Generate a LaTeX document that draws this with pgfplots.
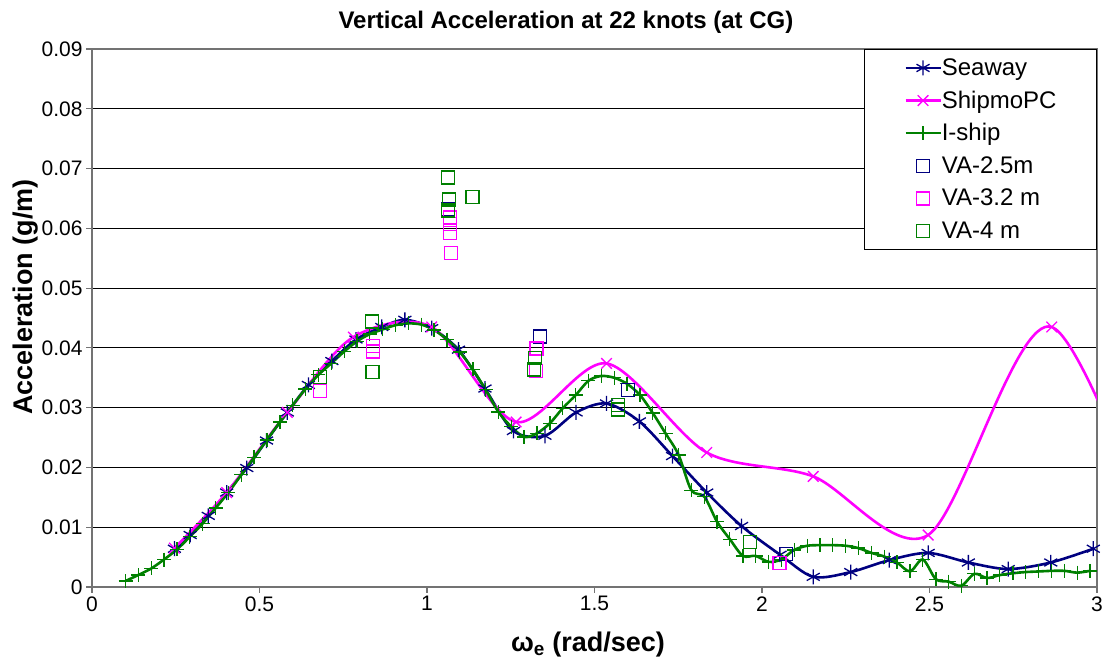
\documentclass[border=0pt]{standalone}
\usepackage{pgfplots}
\pgfplotsset{compat=1.18}
\usepackage{fontspec}
\setmainfont{Liberation Sans}
\definecolor{sea}{RGB}{0,0,128}
\definecolor{shp}{RGB}{255,0,255}
\definecolor{isg}{RGB}{0,128,0}
\begin{document}
\begin{tikzpicture}
\useasboundingbox (0,0) rectangle (1107pt,663pt);
\begin{axis}[
  at={(92pt,76pt)}, anchor=south west,
  scale only axis, width=1005pt, height=538pt,
  xmin=0, xmax=3, ymin=0, ymax=0.09,
  xtick={0,0.5,1,1.5,2,2.5,3},
  ytick={0,0.01,0.02,0.03,0.04,0.05,0.06,0.07,0.08,0.09},
  scaled y ticks=false, scaled x ticks=false,
  ymajorgrids, major grid style={black, line width=0.9pt},
  axis line style={black!55, line width=1.2pt},
  tick align=outside, tick pos=left,
  major tick length=6pt, tick style={black!55, line width=1.2pt},
  ticklabel style={font=\fontsize{21}{25}\selectfont},
  /pgf/number format/assume math mode=true,
  yticklabel style={/pgf/number format/fixed, /pgf/number format/precision=2},
  xticklabel style={/pgf/number format/fixed},
  title={Vertical Acceleration at 22 knots (at CG)},
  title style={font=\bfseries\fontsize{24}{28}\selectfont, at={(axis description cs:0.4716,1.0391)}, anchor=center},
  xlabel={ω\textsubscript{e} (rad/sec)},
  xlabel style={font=\bfseries\fontsize{27}{31}\selectfont, at={(axis description cs:0.4935,-0.1078)}, anchor=center},
  ylabel={Acceleration (g/m)},
  ylabel style={font=\bfseries\fontsize{27}{31}\selectfont, at={(axis description cs:-0.0657,0.539)}, anchor=center},
  legend style={at={(1,1)}, anchor=north east, draw=black, line width=0.9pt, fill=white,
    font=\fontsize{24}{28}\selectfont, inner xsep=40pt, inner ysep=7pt, row sep=9.6pt,
    nodes={inner sep=0pt, text height=19pt, text depth=4pt},
    every even column/.style={column sep=6pt}},
  legend cell align=left,
  legend image code/.code={\draw[mark repeat=2,mark phase=2,#1] plot coordinates {(0pt,0pt) (17.5pt,0pt) (35pt,0pt)};},
]
\addplot[sea, line width=2.6pt, smooth, mark=asterisk, mark size=7.5pt, mark options={solid, line width=1.3pt}] coordinates {
(0.246,0.0064) (0.293,0.0087) (0.347,0.0119) (0.402,0.0158) (0.462,0.0199) (0.521,0.0245)
(0.583,0.0292) (0.646,0.0338) (0.716,0.0378) (0.788,0.0414) (0.865,0.0435) (0.934,0.0447)
(1.014,0.0433) (1.094,0.0397) (1.173,0.0332) (1.258,0.0261) (1.352,0.0253) (1.445,0.0292)
(1.536,0.0307) (1.634,0.0277) (1.733,0.0219) (1.835,0.0158) (1.939,0.0102) (2.054,0.0054)
(2.153,0.0017) (2.265,0.0025) (2.380,0.0045) (2.496,0.0057) (2.616,0.0041) (2.735,0.0030)
(2.862,0.0041) (2.989,0.0064)
};
\addlegendentry{Seaway}
\addplot[shp, line width=2.6pt, smooth, mark=x, mark size=7.5pt, mark options={solid, line width=1.3pt}] coordinates {
(0.246,0.0065) (0.402,0.0158) (0.583,0.0292) (0.780,0.0418) (1.014,0.0435) (1.266,0.0276)
(1.536,0.0374) (1.835,0.0225) (2.153,0.0185) (2.496,0.0087) (2.865,0.0435) (3.26,-0.006)
};
\addlegendentry{ShipmoPC}
\addplot[isg, line width=2.6pt, smooth, mark=+, mark size=7pt, mark options={solid, line width=1.3pt}] coordinates {
(0.100,0.0010) (0.138,0.0020) (0.177,0.0031) (0.215,0.0046) (0.254,0.0063) (0.292,0.0084)
(0.330,0.0106) (0.369,0.0132) (0.407,0.0158) (0.446,0.0188) (0.484,0.0217) (0.522,0.0246)
(0.561,0.0276) (0.599,0.0304) (0.637,0.0331) (0.676,0.0355) (0.714,0.0374) (0.753,0.0394)
(0.791,0.0411) (0.829,0.0423) (0.868,0.0431) (0.906,0.0438) (0.945,0.0441) (0.983,0.0439)
(1.021,0.0430) (1.060,0.0414) (1.098,0.0393) (1.137,0.0364) (1.175,0.0330) (1.213,0.0293)
(1.252,0.0268) (1.290,0.0251) (1.328,0.0257) (1.367,0.0274) (1.405,0.0299) (1.444,0.0321)
(1.482,0.0345) (1.520,0.0353) (1.559,0.0350) (1.597,0.0340) (1.636,0.0321) (1.674,0.0291)
(1.712,0.0257) (1.751,0.0221) (1.789,0.0162) (1.828,0.0151) (1.866,0.0109) (1.904,0.0080)
(1.943,0.0052) (1.981,0.0052) (2.020,0.0042) (2.058,0.0046) (2.096,0.0062) (2.135,0.0069)
(2.173,0.0070) (2.211,0.0070) (2.250,0.0069) (2.288,0.0065) (2.327,0.0057) (2.365,0.0051)
(2.403,0.0041) (2.442,0.0026) (2.480,0.0046) (2.519,0.0013) (2.557,0.0009) (2.595,0.0002)
(2.634,0.0022) (2.672,0.0015) (2.710,0.0020) (2.749,0.0023) (2.787,0.0025) (2.826,0.0026)
(2.864,0.0027) (2.903,0.0027) (2.941,0.0024) (2.979,0.0027)
};
\addlegendentry{I-ship}
\addplot[only marks, sea, mark=square, mark size=6.5pt, mark options={line width=1.3pt}] coordinates {
(1.063,0.0632) (1.337,0.0419) (1.601,0.0330) (2.072,0.0055)
};
\addlegendentry{VA-2.5m}
\addplot[only marks, shp, mark=square, mark size=6.5pt, mark options={line width=1.3pt}] coordinates {
(0.681,0.0328) (0.838,0.0403) (0.838,0.0394) (1.069,0.0618) (1.069,0.0607) (1.069,0.0592)
(1.071,0.0559) (1.327,0.0399) (1.325,0.0361) (2.052,0.0040)
};
\addlegendentry{VA-3.2 m}
\addplot[only marks, isg, mark=square, mark size=6.5pt, mark options={line width=1.3pt}] coordinates {
(0.681,0.0351) (0.835,0.0444) (0.837,0.0360) (1.062,0.0685) (1.066,0.0648) (1.062,0.0630)
(1.136,0.0652) (1.322,0.0383) (1.320,0.0364) (1.571,0.0304) (1.571,0.0297) (1.964,0.0075)
};
\addlegendentry{VA-4 m}
\end{axis}
\end{tikzpicture}
\end{document}
